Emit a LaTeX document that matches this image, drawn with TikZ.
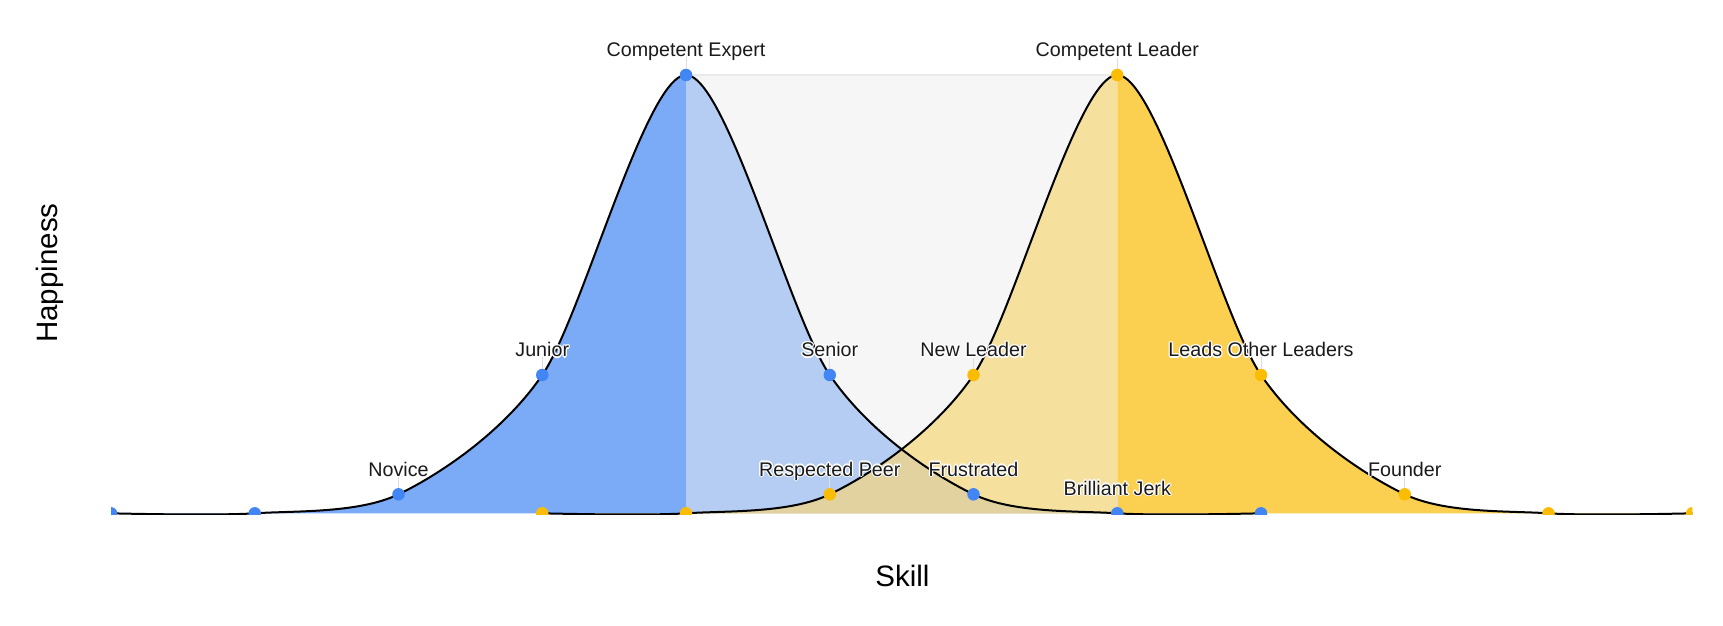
\documentclass[tikz,border=0pt]{standalone}
\usepackage{fontspec}
\setmainfont{Liberation Sans}

\definecolor{dotblue}{HTML}{4285F4}
\definecolor{dotyellow}{HTML}{FBBC04}
\definecolor{bluedark}{HTML}{7BAAF7}
\definecolor{bluelight}{HTML}{B5CDF3}
\definecolor{yellowlight}{HTML}{F5E09E}
\definecolor{yellowdark}{HTML}{FBCF4F}
\definecolor{overlap}{HTML}{E1D2A0}
\definecolor{boxgray}{HTML}{F6F6F6}
\definecolor{boxedge}{HTML}{EAEAEA}
\definecolor{stemgray}{HTML}{DDDDDD}
\definecolor{labelink}{HTML}{1A1A1A}

% white outline round a label
\newcommand\aura[1]{\leavevmode
  \rlap{\color{white}\hspace{-1.3pt}#1}%
  \rlap{\color{white}\hspace{1.3pt}#1}%
  \rlap{\color{white}\raisebox{1.3pt}{#1}}%
  \rlap{\color{white}\raisebox{-1.3pt}{#1}}%
  \rlap{\color{white}\hspace{-.9pt}\raisebox{.9pt}{#1}}%
  \rlap{\color{white}\hspace{.9pt}\raisebox{.9pt}{#1}}%
  \rlap{\color{white}\hspace{-.9pt}\raisebox{-.9pt}{#1}}%
  \rlap{\color{white}\hspace{.9pt}\raisebox{-.9pt}{#1}}%
  #1}

\newcommand\bluebell{plot[smooth,tension=.5] coordinates {(b0) (b1) (b2) (b3) (b4) (b5) (b6) (b7) (b8)}}
\newcommand\yellowbell{plot[smooth,tension=.5] coordinates {(y3) (y4) (y5) (y6) (y7) (y8) (y9) (y10) (y11)}}

\begin{document}
\begin{tikzpicture}[x=1pt, y=-1pt,
  lbl/.style={font=\fontsize{19.7}{24}\selectfont, text=labelink, inner sep=0pt, anchor=base},
  axistitle/.style={font=\fontsize{29.5}{34}\selectfont, inner sep=0pt},
  bdot/.style={circle, fill=dotblue, inner sep=0pt, minimum size=12.5pt},
  ydot/.style={circle, fill=dotyellow, inner sep=0pt, minimum size=12.5pt},
  stem/.style={draw=stemgray, line width=1pt},
  bellline/.style={draw=black, line width=2pt}]
\path[use as bounding box, fill=white] (0,0) rectangle (1723,625);

\coordinate (b0) at (111,513.3);
\coordinate (b1) at (254.75,513.3);
\coordinate (b2) at (398.5,494.3);
\coordinate (b3) at (542.25,375);
\coordinate (b4) at (686,75);
\coordinate (b5) at (829.75,375);
\coordinate (b6) at (973.5,494.3);
\coordinate (b7) at (1117.25,513.3);
\coordinate (b8) at (1261,513.3);

\coordinate (y3) at (542.25,513.3);
\coordinate (y4) at (686,513.3);
\coordinate (y5) at (829.75,494.3);
\coordinate (y6) at (973.5,375);
\coordinate (y7) at (1117.25,75);
\coordinate (y8) at (1261,375);
\coordinate (y9) at (1404.75,494.3);
\coordinate (y10) at (1548.5,513.3);
\coordinate (y11) at (1692.25,513.3);

% label anchors
\coordinate (novicetop) at ([yshift=18.3pt]b2);
\coordinate (juniortop) at ([yshift=18.3pt]b3);
\coordinate (experttop) at ([yshift=18.3pt]b4);
\coordinate (seniortop) at ([yshift=18.3pt]b5);
\coordinate (frustratedtop) at ([yshift=18.3pt]b6);
\coordinate (jerktop) at ([yshift=18.3pt]b7);
\coordinate (peertop) at ([yshift=18.3pt]y5);
\coordinate (newleadertop) at ([yshift=18.3pt]y6);
\coordinate (leadertop) at ([yshift=18.3pt]y7);
\coordinate (leadstop) at ([yshift=18.3pt]y8);
\coordinate (foundertop) at ([yshift=18.3pt]y9);

\begin{scope}
\clip (111,0) rectangle (1692.25,514.5);
\fill[boxgray] (b4) rectangle (b7);
\draw[boxedge, line width=1.5pt] (b4) -- (y7);

\begin{scope}
\clip (0,0) rectangle (686,625);
\fill[bluedark] \bluebell -- (b0) -- cycle;
\end{scope}
\begin{scope}
\clip (686,0) rectangle (1723,625);
\fill[bluelight] \bluebell -- (b0) -- cycle;
\end{scope}
\begin{scope}
\clip (0,0) rectangle (1117.25,625);
\fill[yellowlight] \yellowbell -- (y3) -- cycle;
\end{scope}
\begin{scope}
\clip (1117.25,0) rectangle (1723,625);
\fill[yellowdark] \yellowbell -- (y3) -- cycle;
\end{scope}
\begin{scope}
\clip \bluebell -- (b0) -- cycle;
\fill[overlap] \yellowbell -- (y3) -- cycle;
\end{scope}

\draw[bellline] \bluebell;
\draw[bellline] \yellowbell;

\draw[stem] (b2) -- (novicetop);
\draw[stem] (b3) -- (juniortop);
\draw[stem] (b4) -- (experttop);
\draw[stem] (b5) -- (seniortop);
\draw[stem] (b6) -- (frustratedtop);
\draw[stem] (b7) -- (jerktop);
\draw[stem] (y5) -- (peertop);
\draw[stem] (y6) -- (newleadertop);
\draw[stem] (y7) -- (leadertop);
\draw[stem] (y8) -- (leadstop);
\draw[stem] (y9) -- (foundertop);

\node[bdot] (d0) at (b0) {};
\node[bdot] (d1) at (b1) {};
\node[bdot] (d2) at (b2) {};
\node[bdot] (d3) at (b3) {};
\node[bdot] (d4) at (b4) {};
\node[bdot] (d5) at (b5) {};
\node[bdot] (d6) at (b6) {};
\node[bdot] (d7) at (b7) {};
\node[bdot] (d8) at (b8) {};
\node[ydot] (e3) at (y3) {};
\node[ydot] (e4) at (y4) {};
\node[ydot] (e5) at (y5) {};
\node[ydot] (e6) at (y6) {};
\node[ydot] (e7) at (y7) {};
\node[ydot] (e8) at (y8) {};
\node[ydot] (e9) at (y9) {};
\node[ydot] (e10) at (y10) {};
\node[ydot] (e11) at (y11) {};
\end{scope}

\node[lbl] (novice) at (novicetop) {\aura{Novice}};
\node[lbl] (junior) at (juniortop) {\aura{Junior}};
\node[lbl] (expert) at (experttop) {\aura{Competent Expert}};
\node[lbl] (senior) at (seniortop) {\aura{Senior}};
\node[lbl] (frustrated) at (frustratedtop) {\aura{Frustrated}};
\node[lbl] (jerk) at (jerktop) {\aura{Brilliant Jerk}};
\node[lbl] (peer) at (peertop) {\aura{Respected Peer}};
\node[lbl] (newleader) at (newleadertop) {\aura{New Leader}};
\node[lbl] (leader) at (leadertop) {\aura{Competent Leader}};
\node[lbl] (leads) at (leadstop) {\aura{Leads Other Leaders}};
\node[lbl] (founder) at (foundertop) {\aura{Founder}};

\node[axistitle, anchor=base] (skill) at (902.5,586) {Skill};
\node[axistitle, rotate=90] (happiness) at (49.5,273) {Happiness};

\end{tikzpicture}
\end{document}
